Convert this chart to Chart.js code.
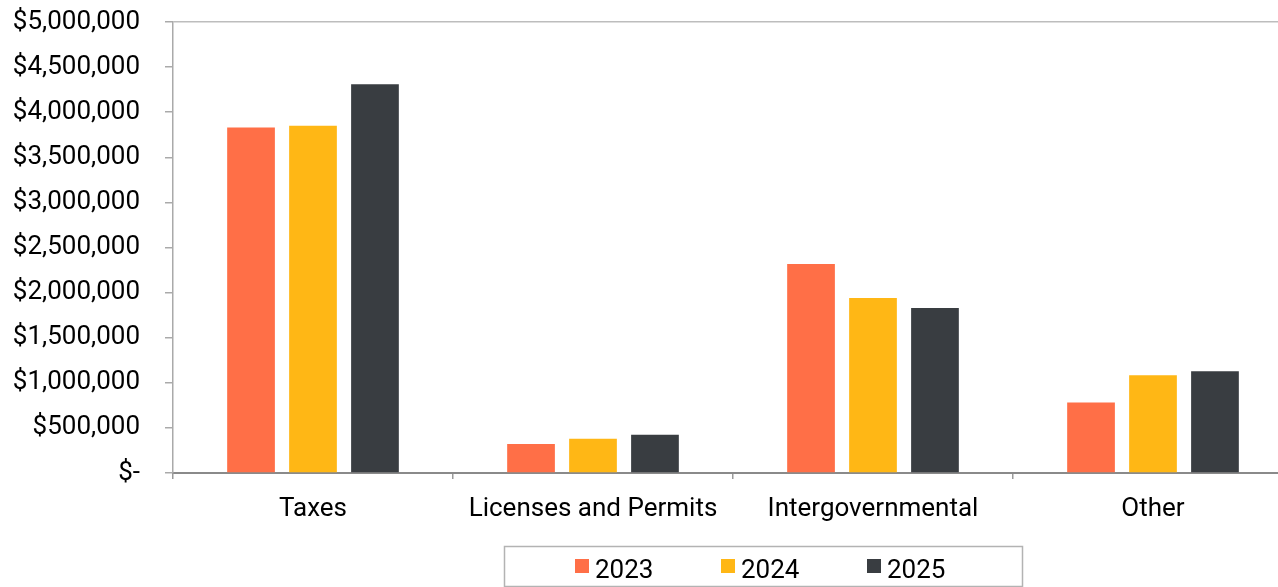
<!DOCTYPE html>
<html>
<head>
<meta charset="utf-8">
<script src="https://cdn.jsdelivr.net/npm/chart.js@4.4.1/dist/chart.umd.min.js"></script>
<style>
  html, body { margin: 0; padding: 0; background: #fff; overflow: hidden; }
  #wrap { width: 1300px; height: 587px; }
</style>
</head>
<body>
<div id="wrap"><canvas id="chartContainer" width="1300" height="587"></canvas></div>
<script>
const categories = ["Taxes", "Licenses and Permits", "Intergovernmental", "Other"];
const years = ["2023", "2024", "2025"];
const values2023 = [3830000, 321000, 2317000, 782000];
const values2024 = [3850000, 380000, 1941000, 1085000];
const values2025 = [4310000, 424000, 1830000, 1129000];
const colors = ["#FF6F47", "#FFB715", "#393D41"];

const fontFamily = "Roboto, 'Noto Sans', sans-serif";

function money(v) {
  if (v === 0) return "$-";
  return "$" + v.toLocaleString("en-US");
}

// boxed legend drawn under the plot, like the original
const boxLegend = {
  id: "boxLegend",
  afterDraw(chart) {
    const c = chart.ctx;
    c.save();
    c.strokeStyle = "#b3b3b3";
    c.lineWidth = 1.5;
    c.strokeRect(504.5, 546.5, 518, 40);
    c.font = "26px " + fontFamily;
    c.textBaseline = "alphabetic";
    chart.data.datasets.forEach((ds, i) => {
      const x = 575 + i * 146;
      c.fillStyle = ds.backgroundColor;
      c.fillRect(x, 559, 14, 14);
      c.fillStyle = "#000";
      c.fillText(ds.label, x + 20, 578);
    });
    c.restore();
  }
};

const series = [values2023, values2024, values2025];

new Chart(document.getElementById("chartContainer"), {
  type: "bar",
  data: {
    labels: categories,
    datasets: years.map((y, i) => ({
      label: y,
      data: series[i],
      backgroundColor: colors[i],
      borderWidth: 0,
      categoryPercentage: 0.664,
      barPercentage: 0.77
    }))
  },
  options: {
    responsive: false,
    animation: false,
    devicePixelRatio: 1,
    layout: { padding: { top: 22, right: 7, bottom: 54, left: 0 } },
    plugins: {
      legend: { display: false },
      tooltip: { enabled: false }
    },
    scales: {
      x: {
        grid: {
          offset: true,
          color: "transparent",
          tickColor: "#9a9a9a",
          tickLength: 6,
          lineWidth: 1.5
        },
        border: { color: "#8a8a8a", width: 2 },
        ticks: {
          color: "#000",
          font: { family: fontFamily, size: 26 },
          padding: 15,
          maxRotation: 0
        },
        afterFit(scale) {
          scale.height = 60;
          scale.paddingLeft = 0;
          scale.paddingRight = 0;
        }
      },
      y: {
        min: 0,
        max: 5000000,
        grid: {
          color: ctx => (ctx.tick && ctx.tick.value === 5000000) ? "#bdbdbd" : "transparent",
          tickColor: "#aaaaaa",
          tickLength: 8,
          lineWidth: 1.5
        },
        border: { color: "#aaaaaa", width: 1.5 },
        ticks: {
          stepSize: 500000,
          color: "#000",
          font: { family: fontFamily, size: 26 },
          padding: 25,
          callback: v => money(v)
        },
        afterFit(scale) {
          scale.width = 173;
          scale.paddingTop = 0;
          scale.paddingBottom = 0;
        }
      }
    }
  },
  plugins: [boxLegend]
});
</script>
</body>
</html>
